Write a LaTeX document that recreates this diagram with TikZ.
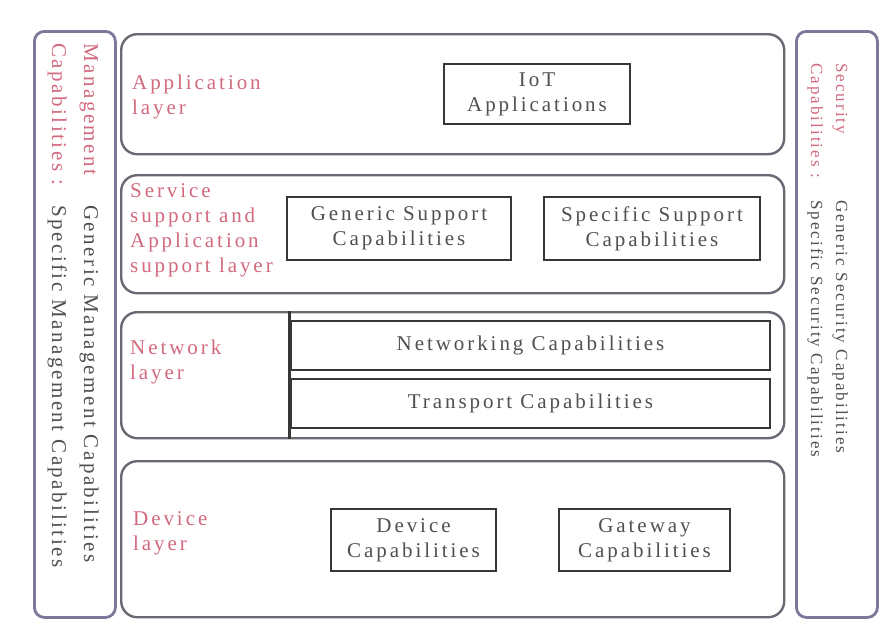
\documentclass[tikz,border=0pt]{standalone}
\usepackage{fontspec}
\setmainfont{Liberation Serif}
\usetikzlibrary{positioning}

\definecolor{labred}{RGB}{210,105,125}
\definecolor{txtgray}{RGB}{80,80,80}
\definecolor{layline}{RGB}{105,105,115}
\definecolor{boxline}{RGB}{55,55,55}
\definecolor{panline}{RGB}{125,120,155}

\newcommand{\boxfont}{\fontsize{21}{25}\selectfont\addfontfeature{LetterSpace=14}}
\newcommand{\leftfont}{\fontsize{21}{32}\selectfont\addfontfeature{LetterSpace=12}}
\newcommand{\rightfont}{\fontsize{17}{25}\selectfont\addfontfeature{LetterSpace=12}}

\begin{document}
\begin{tikzpicture}[x=1pt,y=-1pt,
  layer/.style={draw=layline, line width=2.4pt, rounded corners=16pt, anchor=north west, inner sep=0pt},
  panel/.style={draw=panline, line width=2.8pt, rounded corners=10pt, anchor=north west, inner sep=0pt},
  capbox/.style={draw=boxline, line width=2.8pt, text=txtgray, align=center, inner sep=0pt, font=\boxfont},
  laylabel/.style={text=labred, align=left, anchor=west, inner sep=0pt, font=\boxfont},
  sidetext/.style={text=txtgray, align=left, rotate=-90, anchor=north west, inner sep=0pt}]
\useasboundingbox[fill=white] (0,0) rectangle (888,619);

% side panels
\node[panel, minimum width=81pt, minimum height=586pt] (mgmt) at (33,30) {};
\node[panel, minimum width=81pt, minimum height=586pt] (secu) at (795,30) {};
\node[sidetext, font=\leftfont] (mgmttxt) at (99,43)
  {\makebox[162pt][l]{\color{labred}Management}Generic Management Capabilities\\
   \makebox[162pt][l]{\color{labred}Capabilities :}Specific Management Capabilities};
\node[sidetext, font=\rightfont] (secutxt) at (848,63)
  {\makebox[137pt][l]{\color{labred}Security}Generic Security Capabilities\\
   \makebox[137pt][l]{\color{labred}Capabilities :}Specific Security Capabilities};

% layers
\node[layer, minimum width=663pt, minimum height=120pt] (app) at (120,33) {};
\node[layer, minimum width=663pt, minimum height=118pt] (svc) at (120,174) {};
\node[layer, minimum width=663pt, minimum height=126pt] (net) at (120,311) {};
\node[layer, minimum width=663pt, minimum height=156pt] (dev) at (120,460) {};

\node[laylabel] (applab) at (132,97) {Application\\layer};
\node[laylabel] (svclab) at (130,230) {Service\\support and\\Application\\support layer};
\node[laylabel] (netlab) at (130,362) {Network\\layer};
\node[laylabel] (devlab) at (133,533) {Device\\layer};

% capability boxes
\node[capbox, minimum width=186pt, minimum height=60pt] (iot) at (537,94) {IoT\\Applications};
\node[capbox, minimum width=224pt, minimum height=63pt] (gensup) at (399,228.5) {Generic Support\\Capabilities};
\node[capbox, minimum width=216pt, minimum height=63pt] (specsup) at (652,228.5) {Specific Support\\Capabilities};
\node[capbox, minimum width=479pt, minimum height=49pt] (netw) at (530.5,345.5) {Networking Capabilities};
\node[capbox, minimum width=479pt, minimum height=49pt] (trans) at (530.5,403.5) {Transport Capabilities};
\node[capbox, minimum width=165pt, minimum height=62pt] (devcap) at (413.5,540) {Device\\Capabilities};
\node[capbox, minimum width=171pt, minimum height=62pt] (gwcap) at (644.5,540) {Gateway\\Capabilities};

\draw[boxline, line width=2.8pt] (net.north -| netw.west) -- (net.south -| netw.west);
\end{tikzpicture}
\end{document}
